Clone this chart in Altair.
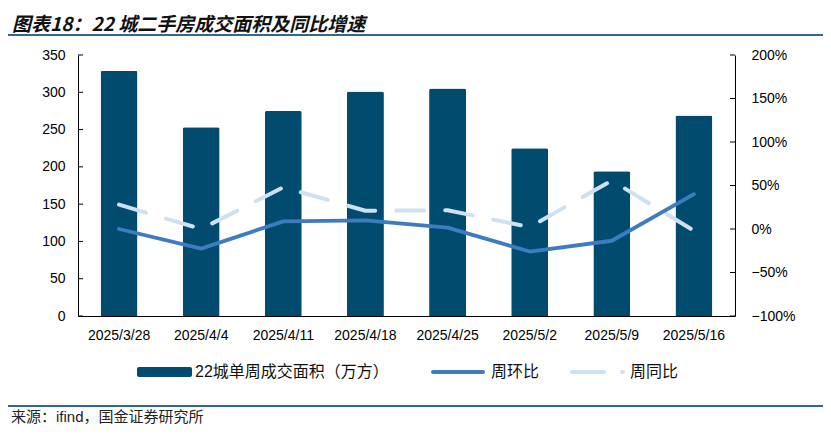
import altair as alt
import pandas as pd

# ---------------- data ----------------
categories = ["2025/3/28", "2025/4/4", "2025/4/11", "2025/4/18",
              "2025/4/25", "2025/5/2", "2025/5/9", "2025/5/16"]
area = [329, 253, 275, 301, 305, 225, 194, 269]          # 22城单周成交面积（万方）
wow = [0.0, -0.225, 0.088, 0.10, 0.016, -0.259, -0.135, 0.40]   # 周环比
yoy = [0.28, 0.0, 0.48, 0.21, 0.215, 0.023, 0.557, -0.02]       # 周同比
left_ticks = [0, 50, 100, 150, 200, 250, 300, 350]
right_ticks = [-1.0, -0.5, 0.0, 0.5, 1.0, 1.5, 2.0]

title_text = "图表18：22 城二手房成交面积及同比增速"
source_text = "来源：ifind，国金证券研究所"
legend_labels = ["22城单周成交面积（万方）", "周环比", "周同比"]

df = pd.DataFrame({"date": categories, "area": area, "wow": wow, "yoy": yoy})

W, H = 657, 261
BAR = "#004B6E"
SOLID = "#3E7CC0"
DASH = "#CFE0F1"
RULE = "#30698C"
LABEL_FONT = "Liberation Sans, Arial, Noto Sans CJK SC"
CJK_FONT = "Liberation Sans, Noto Sans CJK SC"

xscale = alt.Scale(domain=categories, paddingInner=0.55, paddingOuter=0.275)
x_axis = alt.Axis(title=None, labelAngle=0, ticks=False, domainColor="#000",
                  domainWidth=1, labelPadding=12, labelFontSize=14,
                  labelFont=LABEL_FONT, labelColor="#000", grid=False)

left_scale = alt.Scale(domain=[0, 350], nice=False, zero=True)
right_scale = alt.Scale(domain=[-1, 2], nice=False, zero=False)

bars = alt.Chart(df).mark_bar(
    color=BAR, cornerRadiusTopLeft=2, cornerRadiusTopRight=2
).encode(
    x=alt.X("date:N", sort=categories, scale=xscale, axis=x_axis),
    y=alt.Y("area:Q", scale=left_scale,
            axis=alt.Axis(title=None, values=left_ticks, ticks=False, grid=False,
                          domainColor="#000", domainWidth=1, labelPadding=13,
                          labelFontSize=14, labelFont=LABEL_FONT, labelColor="#000")),
)

left_tick_rules = alt.Chart(pd.DataFrame({"t": left_ticks})).mark_rule(
    color="#000", strokeWidth=1
).encode(
    y=alt.Y("t:Q", scale=left_scale, axis=None),
    x=alt.value(0), x2=alt.value(5),
)

right_tick_rules = alt.Chart(pd.DataFrame({"t": right_ticks})).mark_rule(
    color="#000", strokeWidth=1
).encode(
    y=alt.Y("t:Q", scale=right_scale, axis=None),
    x=alt.value(W - 5), x2=alt.value(W),
)

line_x = alt.X("date:N", sort=categories, scale=xscale, axis=x_axis, bandPosition=0.5)

dashed = alt.Chart(df).mark_line(
    color=DASH, strokeWidth=4, strokeDash=[28, 21], strokeCap="round", strokeJoin="round"
).encode(
    x=line_x,
    y=alt.Y("yoy:Q", scale=right_scale, axis=None),
)

solid = alt.Chart(df).mark_line(
    color=SOLID, strokeWidth=3.8, strokeCap="round", strokeJoin="round"
).encode(
    x=line_x,
    y=alt.Y("wow:Q", scale=right_scale,
            axis=alt.Axis(title=None, orient="right", format=".0%", values=right_ticks,
                          ticks=False, grid=False, domainColor="#000", domainWidth=1,
                          labelPadding=16, labelFontSize=14, labelFont=LABEL_FONT,
                          labelColor="#000")),
)

one = pd.DataFrame({"a": [0]})

title = alt.Chart(one).mark_text(
    align="left", baseline="alphabetic", fontSize=19, fontWeight="bold", fontStyle="italic",
    font="Noto Sans CJK SC", color="#111"
).encode(x=alt.value(-66), y=alt.value(-24), text=alt.value(title_text))

top_rule = alt.Chart(one).mark_rule(color=RULE, strokeWidth=2).encode(
    x=alt.value(-73), x2=alt.value(748), y=alt.value(-20))

bottom_rule = alt.Chart(one).mark_rule(color=RULE, strokeWidth=2).encode(
    x=alt.value(-73), x2=alt.value(748), y=alt.value(351))

source = alt.Chart(one).mark_text(
    align="left", baseline="middle", fontSize=15, font=CJK_FONT, color="#222"
).encode(x=alt.value(-67), y=alt.value(362), text=alt.value(source_text))

leg_bar = alt.Chart(one).mark_rect(color=BAR, cornerRadius=2).encode(
    x=alt.value(59), x2=alt.value(114), y=alt.value(312), y2=alt.value(322))
leg_solid = alt.Chart(one).mark_rule(color=SOLID, strokeWidth=4, strokeCap="round").encode(
    x=alt.value(355), x2=alt.value(405), y=alt.value(317))
leg_dash = alt.Chart(one).mark_rule(color=DASH, strokeWidth=4, strokeCap="round",
                                    strokeDash=[32, 18]).encode(
    x=alt.value(494), x2=alt.value(545), y=alt.value(317))

def leg_text(x, s):
    return alt.Chart(one).mark_text(
        align="left", baseline="middle", fontSize=16, font=CJK_FONT, color="#111"
    ).encode(x=alt.value(x), y=alt.value(317), text=alt.value(s))

chart = alt.layer(
    bars, left_tick_rules, dashed, solid, right_tick_rules,
    title, top_rule, bottom_rule, source,
    leg_bar, leg_solid, leg_dash,
    leg_text(117, legend_labels[0]), leg_text(413, legend_labels[1]), leg_text(552, legend_labels[2]),
).resolve_scale(y="independent").properties(
    width=W, height=H,
    autosize=alt.AutoSizeParams(type="none"),
    padding={"left": 70, "top": 47, "right": 88, "bottom": 111},
    background="white",
).configure_view(stroke=None)

chart.save("out.html", embed_options={"renderer": "svg", "actions": False})
